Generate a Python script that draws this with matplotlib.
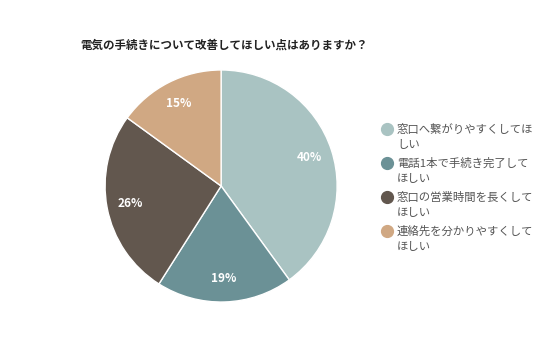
import matplotlib
matplotlib.use("Agg")
import matplotlib.pyplot as plt
from matplotlib.lines import Line2D

plt.rcParams['font.family'] = ['Noto Sans CJK JP', 'DejaVu Sans']

title = "電気の手続きについて改善してほしい点はありますか？"
labels = ["窓口へ繋がりやすくしてほ\nしい",
          "電話1本で手続き完了して\nほしい",
          "窓口の営業時間を長くして\nほしい",
          "連絡先を分かりやすくして\nほしい"]
values = [40, 19, 26, 15]
colors = ["#A9C3C2", "#6B9196", "#62574E", "#D0A883"]

W, H = 536, 357
fig = plt.figure(figsize=(W / 100, H / 100), dpi=100)
ax = fig.add_axes([0.196, 0.154, 0.433, 0.650])

wedges, texts, autotexts = ax.pie(
    values, colors=colors, startangle=90, counterclock=False,
    autopct=lambda p: f"{p:.0f}%", pctdistance=0.8,
    wedgeprops=dict(edgecolor="white", linewidth=1),
    textprops=dict(color="white", fontsize=8.5, fontweight="bold"))
ax.set_xlim(-1, 1)
ax.set_ylim(-1, 1)
ax.set_aspect("equal")

fig.text(80 / W, 1 - 45 / H, title, fontsize=8.3, fontweight="bold",
         color="#222222", va="center", ha="left")

# legend drawn by hand: marker sits on the first line of each label
for i, (lab, c) in enumerate(zip(labels, colors)):
    y = 129 + 34 * i
    fig.add_artist(Line2D([387 / W], [1 - y / H], transform=fig.transFigure,
                          marker="o", markersize=8.5, linestyle="",
                          markerfacecolor=c, markeredgecolor=c))
    first, second = lab.split("\n")
    fig.text(397 / W, 1 - y / H, first, fontsize=8.2, color="#555555",
             va="center", ha="left")
    fig.text(397 / W, 1 - (y + 16) / H, second, fontsize=8.2,
             color="#555555", va="center", ha="left")

fig.savefig("out.png", dpi=100)
